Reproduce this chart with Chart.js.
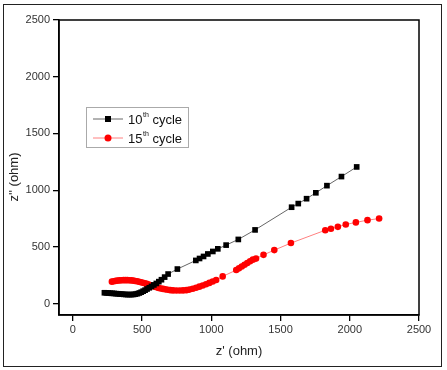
<!DOCTYPE html>
<html>
<head>
<meta charset="utf-8">
<script src="https://cdn.jsdelivr.net/npm/chart.js@4.4.1/dist/chart.umd.min.js"></script>
<style>
    body { margin: 0; background: #fff; }
    #wrap { position: relative; width: 447px; height: 370px; }
    #frame { position: absolute; left: 3px; top: 4px; width: 437px; height: 361px; border: 1px solid #222; pointer-events: none; }
    #chart { position: absolute; left: 0; top: 0; }
</style>
</head>
<body>
<div id="wrap">
    <canvas id="chart" width="447" height="370"></canvas>
    <div id="frame"></div>
</div>
<script>
// tick labels
const xTicks = [0, 500, 1000, 1500, 2000, 2500];
const yTicks = [0, 500, 1000, 1500, 2000, 2500];

// 10th cycle
const cycle10X = [228, 242, 256, 270, 284, 298, 312, 326, 340, 354, 368, 382, 396, 410, 424, 438, 452, 466, 480, 494, 508, 522, 536, 552, 568, 585, 603, 621, 640, 663, 688, 755, 888, 915, 944, 975, 1011, 1047, 1107, 1195, 1316, 1580, 1628, 1688, 1755, 1835, 1940, 2050];
const cycle10Y = [96, 95, 94, 92, 91, 90, 88, 87, 85, 84, 82, 81, 80, 80, 80, 81, 84, 88, 94, 101, 110, 119, 129, 140, 152, 165, 178, 194, 211, 234, 261, 305, 381, 398, 416, 438, 460, 483, 516, 566, 650, 850, 882, 925, 977, 1040, 1120, 1205];

// 15th cycle
const cycle15X = [282, 296, 310, 324, 338, 352, 366, 380, 394, 408, 422, 436, 450, 464, 478, 492, 506, 520, 534, 548, 562, 576, 590, 604, 620, 636, 652, 668, 686, 704, 724, 748, 772, 796, 820, 842, 866, 890, 914, 938, 962, 986, 1010, 1035, 1082, 1180, 1200, 1220, 1240, 1260, 1280, 1300, 1323, 1377, 1455, 1575, 1823, 1864, 1914, 1971, 2044, 2128, 2212];
const cycle15Y = [194, 198, 201, 203, 205, 206, 207, 207, 207, 206, 205, 203, 200, 197, 193, 189, 184, 179, 174, 168, 162, 156, 150, 145, 139, 134, 130, 126, 122, 119, 117, 116, 116, 117, 119, 124, 131, 140, 150, 160, 171, 183, 195, 208, 240, 296, 311, 327, 343, 358, 374, 388, 397, 430, 472, 534, 647, 660, 677, 698, 716, 736, 750];

const seriesNum = ['10', '15'];
const seriesSup = 'th';
const seriesTail = ' cycle';
const xTitle = "z' (ohm)";
const yTitle = "z'' (ohm)";

function toPoints(xs, ys) {
    var pts = [];
    for (var i = 0; i < xs.length; i++) {
        pts.push({ x: xs[i], y: ys[i] });
    }
    return pts;
}

const FONT = '"Liberation Sans", Arial, sans-serif';

// frame, axis titles and the boxed legend
const extras = {
    id: 'extras',
    afterDraw(chart) {
        var ctx = chart.ctx;
        var a = chart.chartArea;
        ctx.save();
        ctx.strokeStyle = '#000';
        ctx.lineWidth = 1.5;
        ctx.strokeRect(a.left, a.top, a.right - a.left, a.bottom - a.top);

        ctx.fillStyle = '#222';
        ctx.font = '13px ' + FONT;
        ctx.textAlign = 'center';
        ctx.textBaseline = 'middle';
        ctx.fillText(xTitle, (a.left + a.right) / 2, 351);
        ctx.save();
        ctx.translate(14, 177);
        ctx.rotate(-Math.PI / 2);
        ctx.fillText(yTitle, 0, 0);
        ctx.restore();

        // legend
        var bx = a.left + 27, by = a.top + 87;
        ctx.strokeStyle = '#aaa';
        ctx.lineWidth = 1;
        ctx.strokeRect(bx + 0.5, by + 0.5, 102, 40);
        chart.data.datasets.forEach(function (ds, i) {
            var cy = by + 12 + i * 19;
            ctx.strokeStyle = ds.borderColor;
            ctx.lineWidth = 1;
            ctx.beginPath();
            ctx.moveTo(bx + 7, cy);
            ctx.lineTo(bx + 37, cy);
            ctx.stroke();
            ctx.fillStyle = ds.pointBackgroundColor;
            if (ds.pointStyle == 'rect') {
                ctx.fillRect(bx + 19, cy - 3, 6, 6);
            } else {
                ctx.beginPath();
                ctx.arc(bx + 22, cy, 3.5, 0, Math.PI * 2);
                ctx.fill();
            }
            ctx.fillStyle = '#111';
            ctx.textAlign = 'left';
            ctx.textBaseline = 'middle';
            ctx.font = '13px ' + FONT;
            var tx = bx + 42;
            ctx.fillText(seriesNum[i], tx, cy + 1);
            tx += ctx.measureText(seriesNum[i]).width + 0.5;
            ctx.font = '7px ' + FONT;
            ctx.fillText(seriesSup, tx, cy - 4);
            tx += ctx.measureText(seriesSup).width;
            ctx.font = '13px ' + FONT;
            ctx.fillText(seriesTail, tx, cy + 1);
        });
        ctx.restore();
    }
};

function axis(ticks, isX) {
    return {
        type: 'linear',
        min: -100,
        max: 2500,
        afterBuildTicks: s => { s.ticks = ticks.map(v => ({ value: v })); },
        afterFit: s => { if (isX) { s.height = 55; } else { s.width = 59; } },
        grid: { drawOnChartArea: false, drawTicks: true, tickLength: 6, color: '#000', lineWidth: 1.3 },
        border: { display: true, color: '#000', width: 1.5 },
        ticks: {
            color: '#333',
            font: { family: FONT, size: 11 },
            padding: isX ? 2 : 3,
            maxRotation: 0,
            callback: v => String(v)
        }
    };
}

var chart = new Chart(document.getElementById('chart'), {
    type: 'line',
    data: {
        datasets: [
            {
                label: seriesNum[0] + seriesSup + seriesTail,
                data: toPoints(cycle10X, cycle10Y),
                borderColor: '#666',
                borderWidth: 1,
                pointStyle: 'rect',
                pointRadius: 4,
                pointBackgroundColor: '#000',
                pointBorderWidth: 0,
                tension: 0
            },
            {
                label: seriesNum[1] + seriesSup + seriesTail,
                data: toPoints(cycle15X, cycle15Y),
                borderColor: '#ff8080',
                borderWidth: 1,
                pointStyle: 'circle',
                pointRadius: 3.3,
                pointBackgroundColor: '#ff0000',
                pointBorderWidth: 0,
                tension: 0
            }
        ]
    },
    options: {
        responsive: false,
        devicePixelRatio: 1,
        animation: false,
        layout: { padding: { left: 0, right: 28, top: 20, bottom: 0 } },
        plugins: { legend: { display: false }, tooltip: { enabled: false } },
        scales: { x: axis(xTicks, true), y: axis(yTicks, false) }
    },
    plugins: [extras]
});
</script>
</body>
</html>
